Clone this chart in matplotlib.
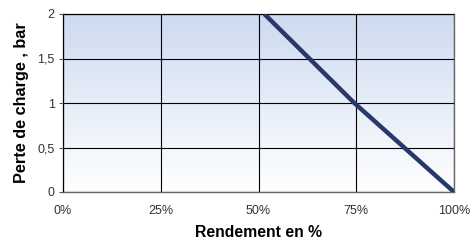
import matplotlib.pyplot as plt
import numpy as np
from matplotlib.colors import LinearSegmentedColormap

# data
rendement = [0.515, 0.745, 1.0]
perte = [2.0, 1.0, 0.0]
xticks = [0, 0.25, 0.5, 0.75, 1.0]
xlabels = ["0%", "25%", "50%", "75%", "100%"]
yticks = [0, 0.5, 1, 1.5, 2]
ylabels = ["0", "0,5", "1", "1,5", "2"]

plt.rcParams['font.family'] = ['Liberation Sans', 'DejaVu Sans']

fig = plt.figure(figsize=(4.72, 2.42), dpi=100)
ax = fig.add_axes([63 / 472, 50 / 242, 391 / 472, 178 / 242])

# background gradient: light blue at top to white at bottom
cmap = LinearSegmentedColormap.from_list("bg", ["#ffffff", "#cddbf0"])
grad = np.linspace(0, 1, 256).reshape(-1, 1)
ax.imshow(grad, cmap=cmap, aspect="auto", origin="lower",
          extent=[0, 1, 0, 2], zorder=0)

ax.set_xlim(0, 1)
ax.set_ylim(0, 2)

ax.set_xticks(xticks)
ax.set_xticklabels(xlabels)
ax.set_yticks(yticks)
ax.set_yticklabels(ylabels)
ax.tick_params(axis="x", length=0, pad=9, labelsize=9, colors="#333333")
ax.tick_params(axis="y", length=3, width=0.8, color="#555555", pad=3,
               labelsize=9, labelcolor="#333333")

ax.grid(True, color="black", linewidth=0.8, zorder=1)
ax.set_axisbelow(False)
for s in ax.spines.values():
    s.set_color("#666666")
    s.set_linewidth(1.0)

ax.plot(rendement, perte, color="#283868", linewidth=3.2,
        solid_capstyle="butt", zorder=3)

ax.set_xlabel("Rendement en %", fontsize=11.3, fontweight="bold", labelpad=6)
ax.set_ylabel("Perte de charge , bar", fontsize=11.7, fontweight="bold", labelpad=6)

fig.savefig("out.png", dpi=100)
